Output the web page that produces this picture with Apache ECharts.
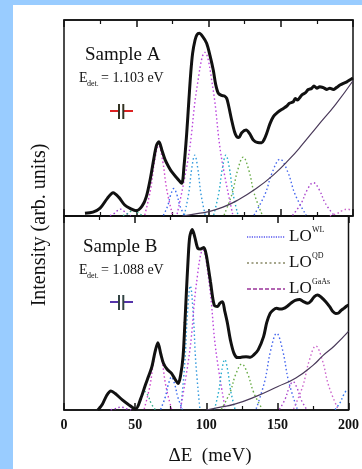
<!DOCTYPE html>
<html><head><meta charset="utf-8">
<script src="https://cdn.jsdelivr.net/npm/echarts@6/dist/echarts.min.js"></script>
<style>html,body{margin:0;padding:0;background:#99ccff;}#wrap{position:absolute;left:13px;top:5px;width:349px;height:464px;background:#fff;}#c{position:absolute;left:0;top:0;width:362px;height:469px;}</style>
</head><body><div id="wrap"></div><div id="c"></div>
<script>
// ---- data (x: ΔE in meV, y: normalized intensity) ----
const xTickLabels = [0, 50, 100, 150, 200];
const spectrumA = [[14.5,0.014],[20,0.02],[25,0.04],[30,0.09],[34,0.119],[38,0.095],[42,0.056],[46,0.038],[50,0.027],[54,0.05],[57,0.099],[60,0.2],[62,0.286],[64,0.36],[65.7,0.379],[68,0.33],[70,0.286],[72.5,0.25],[74.5,0.226],[78,0.195],[81.4,0.167],[83,0.25],[84.9,0.42],[86.5,0.6],[87.7,0.728],[89,0.83],[90.7,0.898],[92,0.925],[93.6,0.932],[96,0.915],[98.7,0.881],[101,0.82],[103.3,0.745],[105,0.67],[106.8,0.626],[109,0.615],[111,0.612],[112.6,0.6],[114,0.56],[116,0.49],[118,0.43],[119.5,0.405],[121,0.4],[123,0.425],[126,0.439],[128.5,0.42],[131,0.388],[134,0.375],[136.8,0.374],[138.5,0.39],[140.3,0.422],[142.5,0.47],[144.9,0.507],[148,0.53],[151.8,0.549],[154,0.56],[156,0.575],[158.7,0.583],[160,0.6],[161.5,0.592],[164.5,0.617],[167,0.628],[169,0.645],[171.4,0.651],[173,0.663],[175,0.652],[177,0.66],[179.4,0.655],[182,0.646],[184,0.652],[186.4,0.646],[188.5,0.655],[191,0.668],[193.3,0.677],[196,0.686],[198,0.695],[200,0.704]];
const spectrumB = [[23.8,0.0],[27,0.03],[30,0.075],[33,0.098],[36,0.085],[41,0.052],[45,0.03],[50.3,0.005],[54,0.06],[57.2,0.129],[59.5,0.175],[61.8,0.223],[64,0.3],[66,0.347],[68,0.29],[69.9,0.241],[72.5,0.21],[75.6,0.189],[78,0.16],[80.3,0.137],[82,0.18],[83.7,0.275],[85,0.45],[86,0.601],[87.2,0.77],[88.4,0.893],[90.2,0.931],[92,0.89],[94.1,0.833],[96,0.83],[98.3,0.838],[100,0.8],[101,0.756],[103,0.66],[105.6,0.541],[108,0.534],[109.5,0.55],[111.4,0.558],[113,0.51],[114.9,0.447],[117,0.36],[119.5,0.292],[122,0.27],[124,0.271],[128,0.275],[131,0.272],[133.4,0.284],[136.5,0.31],[140.3,0.378],[142.5,0.45],[144.9,0.498],[147,0.515],[149.5,0.524],[152,0.52],[154,0.522],[157,0.535],[159.9,0.553],[162.5,0.565],[165.6,0.57],[168,0.56],[171.4,0.55],[174,0.565],[176,0.585],[178.3,0.593],[181,0.58],[184,0.558],[187,0.53],[189,0.508],[191,0.498],[193,0.5],[195,0.515],[196.8,0.524],[198.5,0.535],[200,0.541]];
const gaasA = [[82,0.0],[90,0.01],[100,0.022],[110,0.045],[120,0.08],[133,0.14],[145,0.21],[156,0.29],[165,0.365],[175,0.455],[188,0.57],[200,0.69]];
const gaasB = [[100,0.0],[110,0.015],[120,0.03],[135,0.07],[150,0.12],[163,0.165],[175,0.23],[182,0.28],[190,0.33],[200,0.405]];
// fitted LO components, sample A
const compA1 = [[31.8,0.002],[34.8,0.013],[36.9,0.027],[39,0.035],[41.1,0.027],[43.2,0.013],[46.2,0.002]];
const compA2 = [[40.8,0.002],[43.8,0.011],[45.9,0.023],[48,0.03],[50.1,0.023],[52.2,0.011],[55.2,0.002]];
const compA3 = [[55.9,0.005],[59.9,0.135],[62.7,0.28],[65.5,0.36],[68.3,0.28],[71.1,0.135],[75.1,0.005]];
const compA4 = [[68.8,0.003],[71.8,0.053],[73.9,0.109],[76,0.14],[78.1,0.109],[80.2,0.053],[83.2,0.003]];
const compA5 = [[83.3,0.005],[86.3,0.116],[88.4,0.242],[90.5,0.31],[92.6,0.242],[94.7,0.116],[97.7,0.005]];
const compA6 = [[78.3,0.01],[86.3,0.31],[91.9,0.65],[97.5,0.835],[103.1,0.65],[108.7,0.31],[116.7,0.01]];
const compA7 = [[103.6,0.005],[107.1,0.116],[109.6,0.242],[112,0.31],[114.5,0.242],[116.9,0.116],[120.4,0.005]];
const compA8 = [[110.8,0.005],[116.3,0.113],[120.2,0.234],[124,0.30],[127.9,0.234],[131.7,0.113],[137.2,0.005]];
const compA9 = [[131.5,0.005],[139,0.109],[144.3,0.226],[149.5,0.29],[154.8,0.226],[160,0.109],[167.5,0.005]];
const compA10 = [[158.1,0.003],[164.1,0.064],[168.3,0.133],[172.5,0.17],[176.7,0.133],[180.9,0.064],[186.9,0.003]];
const compA11 = [[184,0.001],[189,0.013],[192.5,0.027],[196,0.035],[199.5,0.027]];
// fitted LO components, sample B
const compB1 = [[32.8,0.001],[35.8,0.006],[37.9,0.012],[40,0.015],[42.1,0.012],[44.2,0.006],[47.2,0.001]];
const compB2 = [[49.8,0.002],[52.8,0.035],[54.9,0.073],[57,0.094],[59.1,0.073],[61.2,0.035],[64.2,0.002]];
const compB3 = [[56.4,0.005],[60.4,0.124],[63.2,0.257],[66,0.33],[68.8,0.257],[71.6,0.124],[75.6,0.005]];
const compB4 = [[67.9,0.003],[71.1,0.064],[73.4,0.133],[75.6,0.17],[77.8,0.133],[80.1,0.064],[83.3,0.003]];
const compB5 = [[82.1,0.008],[84.9,0.24],[86.8,0.5],[88.8,0.64],[90.8,0.5],[92.7,0.24],[95.5,0.008]];
const compB6 = [[82,0.01],[88.5,0.31],[93,0.645],[97.6,0.825],[102.2,0.645],[106.7,0.31],[113.2,0.01]];
const compB7 = [[105.8,0.004],[108.8,0.098],[110.9,0.203],[113,0.26],[115.1,0.203],[117.2,0.098],[120.2,0.004]];
const compB8 = [[110.6,0.004],[116.6,0.089],[120.8,0.185],[125,0.237],[129.2,0.185],[133.4,0.089],[139.4,0.004]];
const compB9 = [[135.1,0.006],[141.1,0.148],[145.3,0.308],[149.5,0.395],[153.7,0.308],[157.9,0.148],[163.9,0.006]];
const compB10 = [[151.4,0.003],[155.4,0.055],[158.2,0.114],[161,0.146],[163.8,0.114],[166.6,0.055],[170.6,0.003]];
const compB11 = [[161.4,0.005],[167.9,0.124],[172.5,0.257],[177,0.33],[181.6,0.257],[186.1,0.124],[192.6,0.005]];
const compB12 = [[190.6,0.002],[194.1,0.038],[196.6,0.078],[199,0.10],[200,0.1]];

const compsA = [compA1,compA2,compA3,compA4,compA5,compA6,compA7,compA8,compA9,compA10,compA11];
const compsB = [compB1,compB2,compB3,compB4,compB5,compB6,compB7,compB8,compB9,compB10,compB11,compB12];
const compColors = ['#9933cc','#33aa88','#cc44cc','#3366ee','#3399dd','#bb44dd','#22aacc','#66aa44','#4466ee','#aa44cc','#cc66cc','#3377ee'];

const serif = 'Liberation Serif, Times New Roman, serif';
const chart = echarts.init(document.getElementById('c'), null, {renderer:'canvas'});

function xAx(gi, pos, labels){
  return {type:'value', gridIndex:gi, position:pos, min:0, max:200, interval:50,
    axisLine:{show:true, lineStyle:{color:'#111', width:1.5}},
    axisTick:{show:true, inside:true, length:7, lineStyle:{color:'#111', width:1.5}},
    minorTick:{show:true, splitNumber:2, length:4, lineStyle:{color:'#111', width:1.2}},
    splitLine:{show:false}, minorSplitLine:{show:false},
    axisLabel:{show:labels, margin:8, color:'#111', fontFamily:serif, fontWeight:'bold', fontSize:14,
      formatter: v => (xTickLabels.indexOf(v) >= 0 ? String(v) : '')}};
}
function yAx(gi){ return {type:'value', gridIndex:gi, min:0, max:1, show:false}; }

const series = [];
function addComps(list, xi, yi){
  list.forEach((d,i)=>{
    series.push({type:'line', xAxisIndex:xi, yAxisIndex:yi, data:d, smooth:0.4, symbol:'none',
      lineStyle:{color:compColors[i%compColors.length], width:1.4, type:[1.5,2.5]}, z:2, silent:true});
  });
}
addComps(compsA, 0, 0);
addComps(compsB, 2, 1);
series.push({type:'line', xAxisIndex:0, yAxisIndex:0, data:gaasA, smooth:true, symbol:'none', lineStyle:{color:'#4a3a5a', width:1.2}, z:3});
series.push({type:'line', xAxisIndex:2, yAxisIndex:1, data:gaasB, smooth:true, symbol:'none', lineStyle:{color:'#4a3a5a', width:1.2}, z:3});
series.push({type:'line', xAxisIndex:0, yAxisIndex:0, data:spectrumA, smooth:0.3, symbol:'none', lineStyle:{color:'#111', width:3}, z:5});
series.push({type:'line', xAxisIndex:2, yAxisIndex:1, data:spectrumB, smooth:0.3, symbol:'none', lineStyle:{color:'#111', width:3}, z:5});

function txt(x,y,text,size,extra){
  return Object.assign({type:'text', x:x, y:y, z:10, style:Object.assign({text:text, fill:'#111', font:size+'px '+serif, textVerticalAlign:'middle'}, extra||{})});
}
function seg(x1,y1,x2,y2,color,w,dash){
  return {type:'line', z:10, shape:{x1:x1,y1:y1,x2:x2,y2:y2}, style:{stroke:color, lineWidth:w, lineDash:dash||null}};
}
function marker(cx, cy, hcol, vcol){
  return [seg(cx-11,cy,cx-2,cy,hcol,2), seg(cx+2,cy,cx+12,cy,hcol,2),
          seg(cx-2,cy-7,cx-2,cy+8,vcol,2), seg(cx+2.3,cy-7,cx+2.3,cy+8,vcol,2)];
}
const graphics = [
  txt(85,55,'Sample A',19),
  txt(79,78,'E',14), txt(87,84,'det.',8), txt(101,78,'= 1.103 eV',14),
  txt(83,247,'Sample B',19),
  txt(79,270,'E',14), txt(87,276,'det.',8), txt(101,270,'= 1.088 eV',14),
  ...marker(121,111,'#dd2222','#333322'),
  ...marker(121,302,'#5533aa','#334444'),
  seg(247,237,285,237,'#5555ee',1.3,[1.2,1.2]), txt(289,237,'LO',17), txt(312,230,'WL',8),
  seg(247,263,285,263,'#888866',1.3,[2,2.5]), txt(289,263,'LO',17), txt(312,256,'QD',8),
  seg(247,289,285,289,'#993399',1.3,[4,2]), txt(289,289,'LO',17), txt(312,282,'GaAs',8),
  txt(40,225,'Intensity (arb. units)',20,{textAlign:'center'}),
  txt(210,456,'\u0394E  (meV)',19,{textAlign:'center'})
];
// rotate y title
graphics[graphics.length-2] = {type:'text', x:40, y:225, rotation:Math.PI/2, z:10,
  style:{text:'Intensity (arb. units)', fill:'#111', font:'20px '+serif, textAlign:'center', textVerticalAlign:'middle'}};

chart.setOption({
  backgroundColor:'transparent',
  animation:false,
  grid:[{left:64, top:20, width:289, height:196, show:true, borderColor:'#111', borderWidth:1.5},
        {left:64, top:216, width:289, height:194, show:true, borderColor:'#111', borderWidth:1.5}],
  xAxis:[xAx(0,'bottom',false), xAx(0,'top',false), xAx(1,'bottom',true), xAx(1,'top',false)],
  yAxis:[yAx(0), yAx(1)],
  series: series,
  graphic: graphics
});
</script></body></html>
